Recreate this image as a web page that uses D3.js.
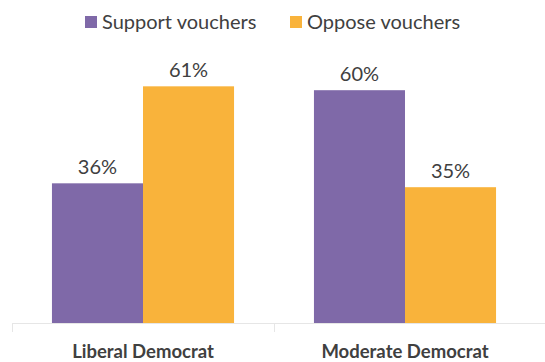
<!DOCTYPE html>
<html><head><meta charset="utf-8">
<script src="https://cdn.jsdelivr.net/npm/d3@7"></script>
<style>body{margin:0;background:#fff}svg{display:block}</style>
</head><body>
<svg id="c" width="545" height="362"></svg>
<script>
const categories = ["Liberal Democrat", "Moderate Democrat"];
const seriesNames = ["Support vouchers", "Oppose vouchers"];
const support = [36, 60];
const oppose = [61, 35];
const colors = ["#7F69A8", "#F9B33B"];

const svg = d3.select("#c");
const base = 323;
const y = d3.scaleLinear().domain([0, 100]).range([base, base - 388]);
const x0 = d3.scaleBand().domain(categories).range([12, 536]).paddingInner(0.305).paddingOuter(0.1525);
const x1 = d3.scaleBand().domain(seriesNames).range([0, x0.bandwidth()]);
const values = [support, oppose];

// axis line
svg.append("line").attr("x1", 12).attr("x2", 545).attr("y1", base + 0.5).attr("y2", base + 0.5)
  .attr("stroke", "#E6E6E6").attr("stroke-width", 1);
// ticks at category boundaries
const step = x0.step();
[0, 1].forEach(i => {
  const tx = Math.round(12 + i * step) + 0.5;
  svg.append("line").attr("x1", tx).attr("x2", tx).attr("y1", base).attr("y2", base + 9)
    .attr("stroke", "#E6E6E6");
});

seriesNames.forEach((s, si) => {
  categories.forEach((c, ci) => {
    const v = values[si][ci];
    const bx = x0(c) + x1(s);
    svg.append("rect").attr("x", bx).attr("y", y(v)).attr("width", x1.bandwidth()).attr("height", base - y(v))
      .attr("fill", colors[si]);
    svg.append("text").attr("x", bx + x1.bandwidth() / 2).attr("y", y(v) - 9)
      .attr("text-anchor", "middle").attr("font-family", "Lato").attr("font-size", 20)
      .attr("fill", "#404040").text(v + "%");
  });
});

// category labels
categories.forEach(c => {
  svg.append("text").attr("x", x0(c) + x0.bandwidth() / 2).attr("y", 358)
    .attr("text-anchor", "middle").attr("font-family", "Lato").attr("font-weight", "bold")
    .attr("font-size", 18.5).attr("fill", "#404040").text(c);
});

// legend
const legX = [85, 290];
seriesNames.forEach((s, i) => {
  svg.append("rect").attr("x", legX[i]).attr("y", 16).attr("width", 12).attr("height", 12).attr("fill", colors[i]);
  svg.append("text").attr("x", legX[i] + 17).attr("y", 28.5).attr("font-family", "Lato").attr("font-size", 20)
    .attr("fill", "#404040").text(s);
});
</script>
</body></html>
